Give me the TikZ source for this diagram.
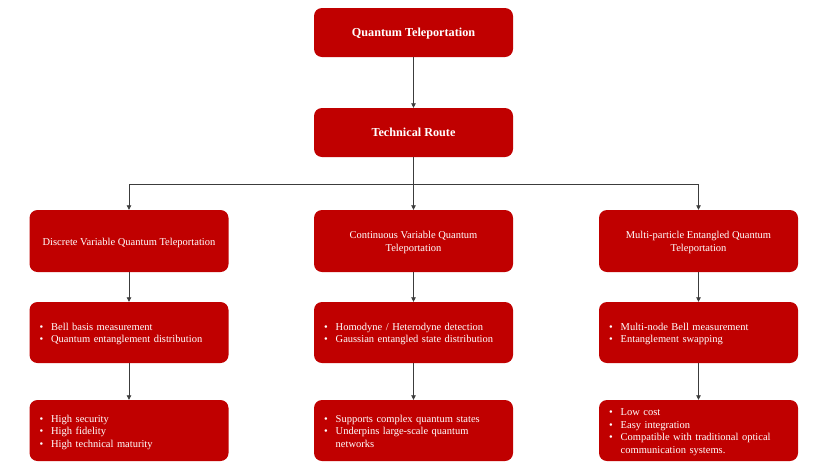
\documentclass[tikz,border=0pt]{standalone}
\usepackage{fontspec}
\setmainfont{Liberation Serif}
\usetikzlibrary{arrows.meta}
\definecolor{boxred}{HTML}{C00000}
\definecolor{lineclr}{HTML}{3C3C3C}
\newcommand{\lw}[1]{\raisebox{-1.6pt}[\height][\depth]{#1}}
\newcommand{\bl}[1]{\lw{\begin{tabular}{@{}l@{\hspace{8pt}}l@{}}#1\end{tabular}}}
\newcommand{\ct}[1]{\lw{\begin{tabular}{@{}c@{}}#1\end{tabular}}}
\begin{document}
\begin{tikzpicture}[x=1pt,y=-1pt,
  box/.style={rectangle, rounded corners=8pt, fill=boxred, draw=none, text=white,
    minimum width=199pt, inner xsep=10pt, inner ysep=2pt, font=\fontsize{10.5}{12.5}\selectfont},
  titlebox/.style={box, minimum height=49pt, align=center, font=\fontsize{12.2}{14}\selectfont\bfseries},
  catbox/.style={box, minimum height=62pt, align=center},
  listbox/.style={box, minimum height=61pt, text width=179pt, align=left},
  conn/.style={draw=lineclr, line width=0.8pt},
  arr/.style={conn, -{Triangle[length=4.5pt,width=4.5pt]}}
]
\useasboundingbox (0,0) rectangle (826,464);

\node[titlebox] (top) at (413.5,32.5) {\ct{Quantum Teleportation}};
\node[titlebox] (tech) at (413.5,132.5) {\ct{Technical Route}};

\node[catbox] (dv) at (129,241) {\ct{Discrete Variable Quantum Teleportation}};
\node[catbox] (cv) at (413.5,241) {\ct{Continuous Variable Quantum\\Teleportation}};
\node[catbox] (mp) at (698.5,241) {\ct{Multi-particle Entangled Quantum\\Teleportation}};

\node[listbox] (dv2) at (129,332.5) {\bl{\textbullet & Bell basis measurement\\ \textbullet & Quantum entanglement distribution}};
\node[listbox] (cv2) at (413.5,332.5) {\bl{\textbullet & Homodyne / Heterodyne detection\\ \textbullet & Gaussian entangled state distribution}};
\node[listbox] (mp2) at (698.5,332.5) {\bl{\textbullet & Multi-node Bell measurement\\ \textbullet & Entanglement swapping}};

\node[listbox] (dv3) at (129,430.5) {\bl{\textbullet & High security\\ \textbullet & High fidelity\\ \textbullet & High technical maturity}};
\node[listbox] (cv3) at (413.5,430.5) {\bl{\textbullet & Supports complex quantum states\\ \textbullet & Underpins large-scale quantum\\ & networks}};
\node[listbox] (mp3) at (698.5,430.5) {\bl{\textbullet & Low cost\\ \textbullet & Easy integration\\ \textbullet & Compatible with traditional optical\\ & communication systems.}};

\coordinate (j) at (413.5,184);
\draw[arr] (top) -- (tech);
\draw[conn] (tech.south) -- (j);
\draw[arr] (j) -| (dv.north);
\draw[arr] (j) -- (cv.north);
\draw[arr] (j) -| (mp.north);
\draw[arr] (dv) -- (dv2);
\draw[arr] (cv) -- (cv2);
\draw[arr] (mp) -- (mp2);
\draw[arr] (dv2) -- (dv3);
\draw[arr] (cv2) -- (cv3);
\draw[arr] (mp2) -- (mp3);
\end{tikzpicture}
\end{document}
